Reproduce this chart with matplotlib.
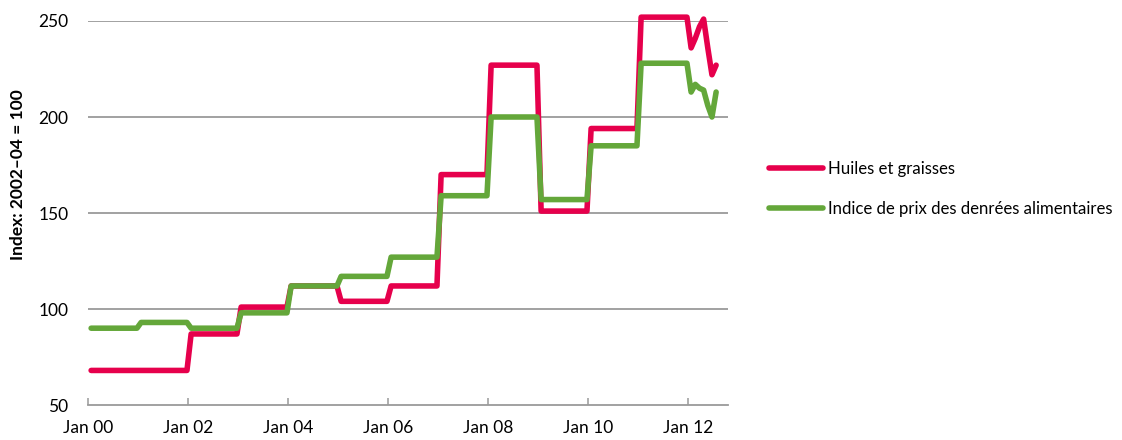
import numpy as np
import matplotlib
matplotlib.use("Agg")
import matplotlib.pyplot as plt

plt.rcParams['font.family'] = ['Lato', 'DejaVu Sans']

# Annual values (2000-2011), repeated for each month of the year
years = list(range(2000, 2012))
huiles_annual = [68, 68, 87, 101, 112, 104, 112, 170, 227, 151, 194, 252]
indice_annual = [90, 93, 90, 98, 112, 117, 127, 159, 200, 157, 185, 228]

# Monthly values for 2012 (Jan-Jul)
months_2012 = [1, 2, 3, 4, 5, 6, 7]
huiles_2012 = [236, 241, 247, 251, 236, 222, 227]
indice_2012 = [213, 217, 215, 214, 206, 200, 213]

xtick_labels = ["Jan 00", "Jan 02", "Jan 04", "Jan 06", "Jan 08", "Jan 10", "Jan 12"]
xtick_years = [2000, 2002, 2004, 2006, 2008, 2010, 2012]

# Build monthly series
x, h, g = [], [], []
for yr, hv, gv in zip(years, huiles_annual, indice_annual):
    for m in range(1, 13):
        x.append(yr + (m - 0.25) / 12)
        h.append(hv)
        g.append(gv)
for m, hv, gv in zip(months_2012, huiles_2012, indice_2012):
    x.append(2012 + (m - 0.25) / 12)
    h.append(hv)
    g.append(gv)

pink = "#E6004C"
green = "#64A73A"
FS = 12.5

fig = plt.figure(figsize=(11.22, 4.40), dpi=100)
ax = fig.add_axes([88/1122, 1 - 405/440, (728 - 88)/1122, (405 - 21)/440])

ax.set_xlim(2000, 2012.8)
ax.set_ylim(50, 250)

for yv in [100, 150, 200, 250]:
    ax.axhline(yv, color="#9a9a9a", lw=1.3, zorder=1)

ax.plot(x, h, color=pink, lw=4.0, solid_capstyle='round', solid_joinstyle='round',
        clip_on=False, zorder=3, label="Huiles et graisses")
ax.plot(x, g, color=green, lw=4.0, solid_capstyle='round', solid_joinstyle='round',
        clip_on=False, zorder=4, label="Indice de prix des denrées alimentaires")

for s in ['top', 'right', 'left']:
    ax.spines[s].set_visible(False)
ax.spines['bottom'].set_color("#9a9a9a")
ax.spines['bottom'].set_linewidth(1.3)

ax.set_xticks(xtick_years)
ax.set_xticklabels(xtick_labels)
ax.tick_params(axis='x', direction='in', length=5, width=1.1, color="#9a9a9a",
               labelsize=FS, pad=11, labelcolor="#000000")
ax.set_yticks([50, 100, 150, 200, 250])
ax.tick_params(axis='y', length=0, labelsize=FS, pad=14, labelcolor="#000000")

ax.set_ylabel("Index: 2002\u201304 = 100", fontsize=FS, fontweight='bold')
ax.yaxis.set_label_coords(-0.097, 0.6)

leg = fig.legend(loc='upper left', bbox_to_anchor=(754/1122, 1 - 146/440), frameon=False,
                 fontsize=12.1, handlelength=3.2, handletextpad=0.3, labelspacing=1.42)

fig.savefig("out.png", dpi=100)
